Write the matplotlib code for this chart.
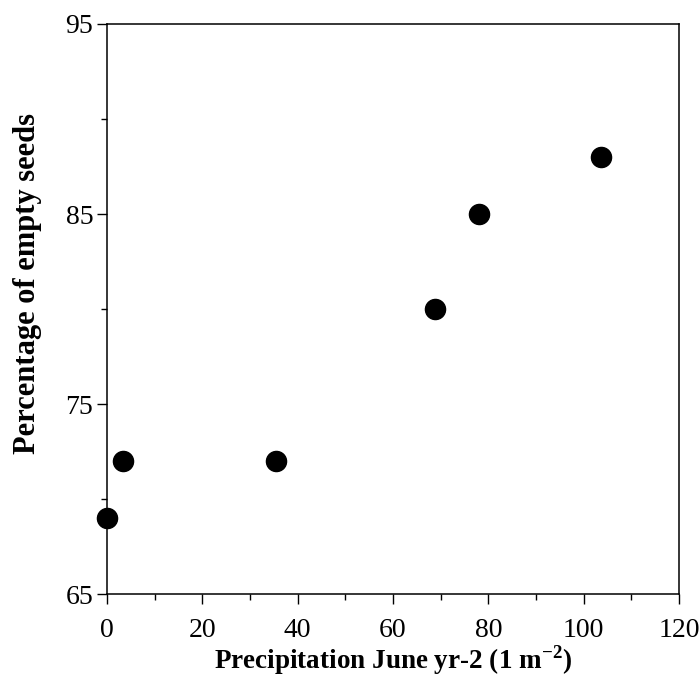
import matplotlib.pyplot as plt
from matplotlib.ticker import MultipleLocator, FixedLocator

plt.rcParams['font.family'] = ['Liberation Serif', 'DejaVu Serif']
plt.rcParams['mathtext.fontset'] = 'custom'
plt.rcParams['mathtext.rm'] = 'Liberation Serif'
plt.rcParams['mathtext.bf'] = 'Liberation Serif:bold'

# data
precip = [0, 3.3, 35.5, 68.8, 78, 103.6]
empty_seeds = [69, 72, 72, 80, 85, 88]
y_major = [65, 75, 85, 95]
y_minor = [70, 80, 90]

fig = plt.figure(figsize=(7, 6.76), dpi=100)
ax = fig.add_axes([0.153, 0.121, 0.817, 0.8435])

ax.scatter(precip, empty_seeds, s=210, color='black', zorder=3, clip_on=False)

ax.set_xlim(0, 120)
ax.set_ylim(65, 95)
ax.xaxis.set_major_locator(MultipleLocator(20))
ax.xaxis.set_minor_locator(MultipleLocator(10))
ax.yaxis.set_major_locator(FixedLocator(y_major))
ax.yaxis.set_minor_locator(FixedLocator(y_minor))

ax.tick_params(which='major', direction='out', length=7, width=1, labelsize=20, pad=3)
ax.tick_params(axis='x', which='major', pad=10)
ax.tick_params(which='minor', direction='out', length=4, width=1)
for sp in ax.spines.values():
    sp.set_linewidth(1.1)

ax.set_xlabel('Precipitation June yr-2 (1 m$^{\\mathbf{-2}}$)', fontsize=19.5, fontweight='bold', labelpad=0)
ax.set_ylabel('Percentage of empty seeds', fontsize=22, fontweight='bold')
ax.yaxis.set_label_coords(-0.113, 0.545)

fig.savefig('out.png', dpi=100)
